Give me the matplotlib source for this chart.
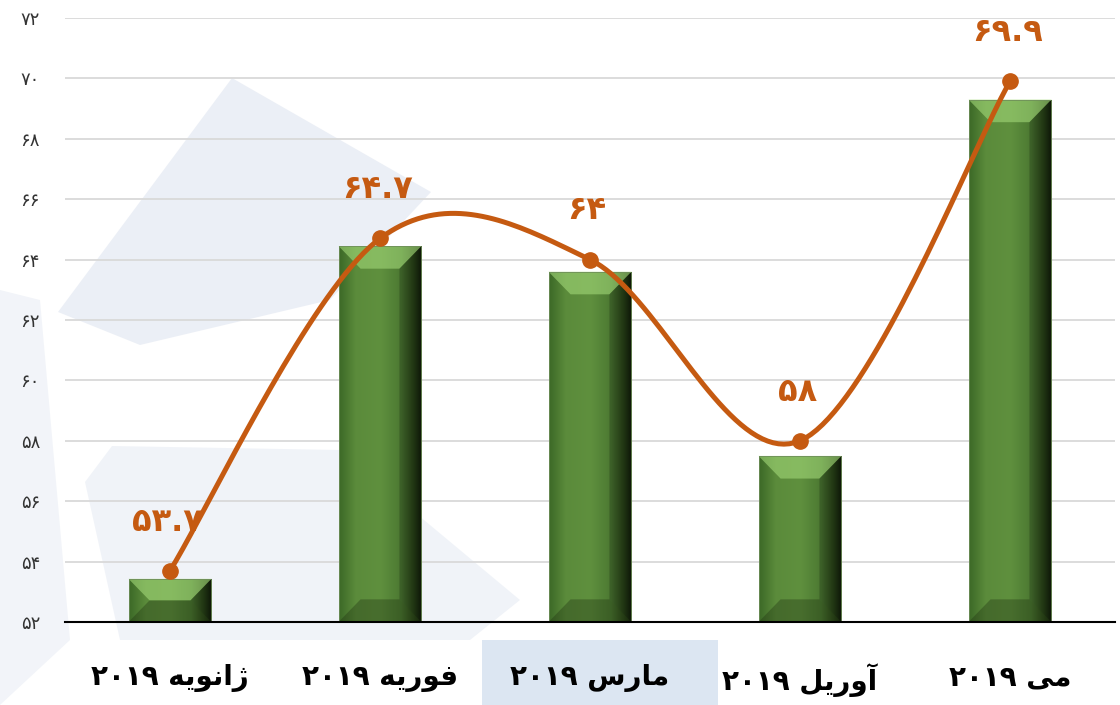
#!/usr/bin/env python3

# monthly index, bars + smoothed line, persian labels

import numpy as np
import matplotlib
matplotlib.use('Agg')
import matplotlib.pyplot as plt
import matplotlib.patches as patches
from matplotlib.colors import LinearSegmentedColormap

months = ['ژانویه', 'فوریه', 'مارس', 'آوریل', 'می']
year = '۲۰۱۹'
bar_values = [53.43, 64.45, 63.6, 57.5, 69.3]
line_values = [53.7, 64.7, 64.0, 58.0, 69.9]
y_ticks = [52, 54, 56, 58, 60, 62, 64, 66, 68, 70, 72]

ORANGE = '#c55a11'
FONT = ['DejaVu Sans']

# arabic presentation forms: isolated, final, initial, medial
FORMS = {
    'ا': ('\uFE8D', '\uFE8E', None, None),
    'آ': ('\uFE81', '\uFE82', None, None),
    'ژ': ('\uFB8A', '\uFB8B', None, None),
    'و': ('\uFEED', '\uFEEE', None, None),
    'ر': ('\uFEAD', '\uFEAE', None, None),
    'ن': ('\uFEE5', '\uFEE6', '\uFEE7', '\uFEE8'),
    'ی': ('\uFBFC', '\uFBFD', '\uFBFE', '\uFBFF'),
    'ه': ('\uFEE9', '\uFEEA', '\uFEEB', '\uFEEC'),
    'ف': ('\uFED1', '\uFED2', '\uFED3', '\uFED4'),
    'م': ('\uFEE1', '\uFEE2', '\uFEE3', '\uFEE4'),
    'س': ('\uFEB1', '\uFEB2', '\uFEB3', '\uFEB4'),
    'ل': ('\uFEDD', '\uFEDE', '\uFEDF', '\uFEE0'),
}


def shape_word(word):
    out = []
    for i, c in enumerate(word):
        f = FORMS[c]
        prev_joins = i > 0 and FORMS[word[i - 1]][2] is not None
        next_joins = f[2] is not None and i < len(word) - 1
        if prev_joins and next_joins:
            out.append(f[3])
        elif prev_joins:
            out.append(f[1])
        elif next_joins:
            out.append(f[2])
        else:
            out.append(f[0])
    return ''.join(reversed(out))


def fa_digits(s):
    return str(s).translate(str.maketrans('0123456789', '۰۱۲۳۴۵۶۷۸۹'))


def catmull_rom(xs, ys, n=40):
    p = np.column_stack([xs, ys]).astype(float)
    p = np.vstack([p[0], p, p[-1]])
    pts = []
    for i in range(1, len(p) - 2):
        p0, p1, p2, p3 = p[i - 1], p[i], p[i + 1], p[i + 2]
        t = np.linspace(0, 1, n)[:, None]
        pts.append(0.5 * ((2 * p1) + (-p0 + p2) * t +
                          (2 * p0 - 5 * p1 + 4 * p2 - p3) * t ** 2 +
                          (-p0 + 3 * p1 - 3 * p2 + p3) * t ** 3))
    pts = np.vstack(pts)
    return pts[:, 0], pts[:, 1]


fig = plt.figure(figsize=(11.2, 7.05), dpi=100)
fig.patch.set_facecolor('white')

# faint watermark in the background
bg = fig.add_axes([0, 0, 1, 1], zorder=-1)
bg.set_xlim(0, 1120)
bg.set_ylim(705, 0)
bg.axis('off')
wm = '#dfe5f0'
bg.add_patch(patches.Polygon([(58, 312), (232, 78), (431, 192), (330, 300), (140, 345)],
                             closed=True, color=wm, lw=0, alpha=0.6))
bg.add_patch(patches.Polygon([(85, 482), (112, 446), (340, 450), (520, 600), (470, 640), (120, 640)],
                             closed=True, color=wm, lw=0, alpha=0.45))
bg.add_patch(patches.Polygon([(0, 290), (40, 300), (70, 640), (0, 705)],
                             closed=True, color=wm, lw=0, alpha=0.4))
bg.add_patch(patches.Rectangle((482, 640), 236, 65, color='#dce6f2', lw=0))

ax = fig.add_axes([65 / 1120, 83 / 705, 1050 / 1120, 604 / 705])
ax.set_facecolor('none')

x = np.arange(len(months))

# gradient bars with bevel
face_cmap = LinearSegmentedColormap.from_list(
    'face', [(0, '#3c6927'), (0.2, '#5b8b3b'), (0.5, '#5f903e'),
             (0.75, '#4c7932'), (0.9, '#2a4519'), (1, '#111b09')])
grad = np.linspace(0, 1, 200)[None, :]
bars = ax.bar(x, np.array(bar_values) - y_ticks[0], bottom=y_ticks[0], width=0.395,
              color='none', edgecolor='#6f8f5a', linewidth=0.6, zorder=3)
bev_x = 0.105
bev_y = 0.75
for rect in bars:
    x0, y0 = rect.get_x(), rect.get_y()
    w, h = rect.get_width(), rect.get_height()
    x1, y1 = x0 + w, y0 + h
    im = ax.imshow(grad, extent=[x0, x1, y0, y1], cmap=face_cmap, aspect='auto',
                   interpolation='bicubic', zorder=2)
    im.set_clip_path(rect)
    by = min(bev_y, h / 2)
    bx = bev_x * by / bev_y
    ax.add_patch(patches.Polygon([(x0, y1), (x1, y1), (x1 - bx, y1 - by), (x0 + bx, y1 - by)],
                                 closed=True, facecolor='#a2d878', alpha=0.6, lw=0, zorder=2.5))
    ax.add_patch(patches.Polygon([(x0, y0), (x1, y0), (x1 - bx, y0 + by), (x0 + bx, y0 + by)],
                                 closed=True, facecolor='#1e3010', alpha=0.35, lw=0, zorder=2.5))
    ax.add_patch(patches.Polygon([(x1, y0), (x1, y1), (x1 - bx, y1 - by), (x1 - bx, y0 + by)],
                                 closed=True, facecolor='#000000', alpha=0.2, lw=0, zorder=2.5))

# smoothed line
sx, sy = catmull_rom(x, line_values)
ax.plot(sx, sy, color=ORANGE, lw=3.6, zorder=4, solid_capstyle='round')
ax.plot(x, line_values, 'o', color=ORANGE, ms=11, zorder=5)

for xi, v in zip(x, line_values):
    txt = fa_digits(('%g' % v))
    ax.annotate(txt, (xi, v), xytext=(-2, 35), textcoords='offset points',
                ha='center', va='center', color=ORANGE, fontsize=23,
                fontweight='bold', family=FONT, zorder=6)

ax.set_xlim(-0.5, len(months) - 0.5)
ax.set_ylim(y_ticks[0], y_ticks[-1])
ax.set_yticks(y_ticks)
ax.set_yticklabels([fa_digits(t) for t in y_ticks], family=FONT, fontsize=13, color='#333333')
ax.set_xticks(x)
ax.set_xticklabels([year + ' ' + shape_word(m) for m in months], family=FONT,
                   fontsize=20, fontweight='bold', color='black')
ax.tick_params(axis='x', length=0, pad=30)
ax.tick_params(axis='y', length=0, pad=18)
ax.grid(axis='y', color='#d9d9d9', lw=1.3, zorder=0)
ax.set_axisbelow(True)
for s in ['top', 'right', 'left']:
    ax.spines[s].set_visible(False)
ax.spines['bottom'].set_color('black')
ax.spines['bottom'].set_linewidth(1.5)
ax.spines['bottom'].set_zorder(3.5)

fig.savefig('out.png', dpi=100)
